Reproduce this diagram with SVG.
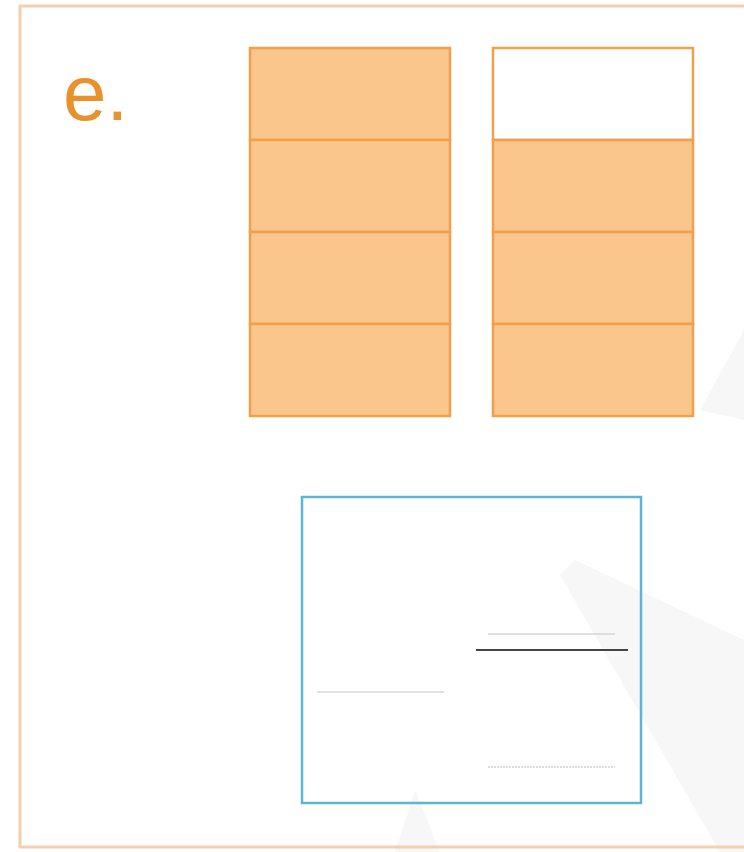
<svg xmlns="http://www.w3.org/2000/svg" width="744" height="852" viewBox="0 0 744 852">
<style>
.cell{fill:#fbc68c;stroke:#f0a04c;stroke-width:2.5}
.empty{fill:#ffffff;stroke:#f0a04c;stroke-width:2.5}
.wm{fill:#f7f7f7}
</style>
<rect width="744" height="852" fill="#ffffff"/>
<g id="watermark">
<polygon class="wm" points="700,410 744,330 744,420"/>
<polygon class="wm" points="560,575 575,560 744,640 744,852 720,852"/>
<polygon class="wm" points="395,852 415,790 440,852"/>
</g>
<rect id="frame" x="20" y="6" width="740" height="841" fill="none" stroke="#f4cfae" stroke-width="3"/>
<text id="label" x="63" y="120" font-family="Liberation Sans, Arial, sans-serif" font-size="78" fill="#e8922e">e.</text>
<g id="bar-left">
<rect class="cell" x="250" y="48" width="200" height="92"/>
<rect class="cell" x="250" y="140" width="200" height="92"/>
<rect class="cell" x="250" y="232" width="200" height="92"/>
<rect class="cell" x="250" y="324" width="200" height="92"/>
</g>
<g id="bar-right">
<rect class="empty" x="493" y="48" width="200" height="92"/>
<rect class="cell" x="493" y="140" width="200" height="92"/>
<rect class="cell" x="493" y="232" width="200" height="92"/>
<rect class="cell" x="493" y="324" width="200" height="92"/>
</g>
<g id="answer-box">
<rect x="302" y="497" width="339" height="306" fill="none" stroke="#5ab6d2" stroke-width="2.5"/>
<line x1="488" y1="634" x2="615" y2="634" stroke="#d6d6d6" stroke-width="1.5"/>
<line x1="476" y1="650" x2="628" y2="650" stroke="#444444" stroke-width="2"/>
<line x1="317" y1="692" x2="444" y2="692" stroke="#d6d6d6" stroke-width="1.5"/>
<line x1="488" y1="767" x2="615" y2="767" stroke="#d0d0d0" stroke-width="1.5" stroke-dasharray="2,1"/>
</g>
<g id="connectors"></g>
</svg>
